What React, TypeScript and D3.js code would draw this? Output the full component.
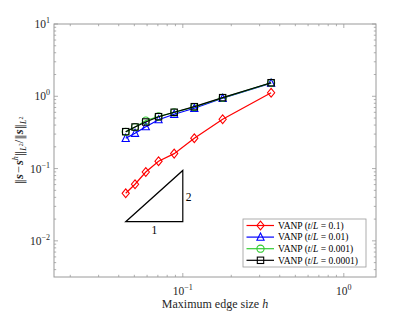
import * as d3 from 'd3';

// mesh sizes h (n = 1..8 refinements)
const meshH = [0.3536, 0.1768, 0.1179, 0.0884, 0.0707, 0.0589, 0.0505, 0.0442];

const errT01 = [1.12, 0.481, 0.263, 0.161, 0.1265, 0.0897, 0.0607, 0.0455];
const errT001 = [1.52, 0.938, 0.682, 0.564, 0.474, 0.38, 0.308, 0.262];
const errT0001 = [1.53, 0.95, 0.71, 0.6, 0.525, 0.46, 0.375, 0.322];
const errT00001 = [1.54, 0.957, 0.718, 0.601, 0.522, 0.441, 0.376, 0.324];

const seriesLabels = ['0.1', '0.01', '0.001', '0.0001'];
const seriesColors = ['#ff0000', '#0000ff', '#33cc33', '#000000'];
const seriesMarkers = ['diamond', 'triangle', 'circle', 'square'];

const xTickExps = [-1, 0];
const yTickExps = [1, 0, -1, -2];

// slope triangle (h from 0.0442 to 0.1, rate 2)
const triH = [0.0442, 0.1];
const triBase = 0.0184;

const W = 415;
const H = 312;
const left = 54, right = 376, top = 24, bottom = 277;
const font = '"Liberation Serif", "DejaVu Serif", serif';
const barFont = '"DejaVu Serif", serif';
const axisCol = '#9a9a9a';
const textCol = '#262626';

function Marker({ kind, x, y, color }: { kind: string; x: number; y: number; color: string }) {
  const s = 3.6;
  if (kind === 'diamond')
    return <path d={`M${x},${y - s - 0.8}L${x + s},${y}L${x},${y + s + 0.8}L${x - s},${y}Z`} fill="none" stroke={color} strokeWidth={1.1} />;
  if (kind === 'triangle')
    return <path d={`M${x},${y - s - 0.5}L${x + s},${y + s - 0.5}L${x - s},${y + s - 0.5}Z`} fill="none" stroke={color} strokeWidth={1.1} />;
  if (kind === 'circle')
    return <circle cx={x} cy={y} r={s} fill="none" stroke={color} strokeWidth={1.1} />;
  return <rect x={x - s + 0.4} y={y - s + 0.4} width={2 * s - 0.8} height={2 * s - 0.8} fill="none" stroke={color} strokeWidth={1.1} />;
}

export default function App() {
  const x = d3.scaleLog().domain([10 ** -1.8, 10 ** 0.2]).range([left, right]);
  const y = d3.scaleLog().domain([10 ** -2.5, 10 ** 1]).range([bottom, top]);

  const allSeries = [errT01, errT001, errT0001, errT00001];
  const line = d3
    .line<[number, number]>()
    .x((d) => x(d[0]))
    .y((d) => y(d[1]));

  // minor + major ticks
  const xTicks: { v: number; major: boolean }[] = [];
  for (let e = -2; e <= 0; e++) {
    for (let m = 1; m <= 9; m++) {
      const v = m * 10 ** e;
      if (v >= x.domain()[0] && v <= x.domain()[1]) xTicks.push({ v, major: m === 1 });
    }
  }
  const yTicks: { v: number; major: boolean }[] = [];
  for (let e = -3; e <= 1; e++) {
    for (let m = 1; m <= 9; m++) {
      const v = m * 10 ** e;
      if (v >= y.domain()[0] * 0.999 && v <= y.domain()[1] * 1.001) yTicks.push({ v, major: m === 1 });
    }
  }

  const tri = [
    [x(triH[0]), y(triBase)],
    [x(triH[1]), y(triBase)],
    [x(triH[1]), y(triBase * (triH[1] / triH[0]) ** 2)],
  ];

  const legX = 243, legY = 219, legW = 123, legH = 48;
  const bs = { fontWeight: 'bold' as const, fontStyle: 'italic' as const };

  return (
    <svg width={W} height={H} style={{ position: 'absolute', left: 0, top: 0, background: '#fff' }} fontFamily={font}>
      {/* axes box */}
      <rect x={left} y={top} width={right - left} height={bottom - top} fill="none" stroke={axisCol} strokeWidth={1} />
      {xTicks.map((t, i) => {
        const px = x(t.v);
        const len = t.major ? 4 : 2.2;
        return (
          <g key={'xt' + i} stroke={axisCol} strokeWidth={0.8}>
            <line x1={px} x2={px} y1={bottom} y2={bottom - len} />
            <line x1={px} x2={px} y1={top} y2={top + len} />
          </g>
        );
      })}
      {yTicks.map((t, i) => {
        const py = y(t.v);
        const len = t.major ? 4 : 2.2;
        return (
          <g key={'yt' + i} stroke={axisCol} strokeWidth={0.8}>
            <line x1={left} x2={left + len} y1={py} y2={py} />
            <line x1={right} x2={right - len} y1={py} y2={py} />
          </g>
        );
      })}
      {xTickExps.map((e) => (
        <text key={'xl' + e} x={x(10 ** e)} y={bottom + 18} textAnchor="middle" fontSize={11.5} fill={textCol}>
          10<tspan dy={-5} fontSize={8}>{e < 0 ? '\u2212' + Math.abs(e) : e}</tspan>
        </text>
      ))}
      {yTickExps.map((e) => (
        <text key={'yl' + e} x={left - 4} y={y(10 ** e) + 4} textAnchor="end" fontSize={11.5} fill={textCol}>
          10<tspan dy={-5} fontSize={8}>{e < 0 ? '\u2212' + Math.abs(e) : e}</tspan>
        </text>
      ))}

      {/* axis labels */}
      <text x={(left + right) / 2} y={308} textAnchor="middle" fontSize={12} fill={textCol}>
        Maximum edge size <tspan fontStyle="italic">h</tspan>
      </text>
      <text transform={`translate(23,${(top + bottom) / 2}) rotate(-90)`} textAnchor="middle" fontSize={12.5} fill={textCol}>
        <tspan fontFamily={barFont} fontSize={11}>‖</tspan>
        <tspan {...bs}>s</tspan>
        <tspan dx={1}>−</tspan>
        <tspan dx={1} {...bs}>s</tspan>
        <tspan dy={-5} fontSize={8} fontStyle="italic">h</tspan>
        <tspan dy={5} fontFamily={barFont} fontSize={11}>‖</tspan>
        <tspan dy={3} fontSize={8} fontStyle="italic">L</tspan>
        <tspan dy={-3} fontSize={6}>2</tspan>
        <tspan dy={0}>/</tspan>
        <tspan fontFamily={barFont} fontSize={11}>‖</tspan>
        <tspan {...bs}>s</tspan>
        <tspan fontFamily={barFont} fontSize={11}>‖</tspan>
        <tspan dy={3} fontSize={8} fontStyle="italic">L</tspan>
        <tspan dy={-3} fontSize={6}>2</tspan>
      </text>

      {/* slope triangle */}
      <path d={`M${tri[0][0]},${tri[0][1]}L${tri[1][0]},${tri[1][1]}L${tri[2][0]},${tri[2][1]}Z`} fill="none" stroke="#000" strokeWidth={1.2} />
      <text x={(tri[0][0] + tri[1][0]) / 2} y={tri[0][1] + 12} textAnchor="middle" fontSize={11.5} fill="#000">1</text>
      <text x={tri[1][0] + 3} y={(tri[1][1] + tri[2][1]) / 2 + 5} fontSize={11.5} fill="#000">2</text>

      {/* series */}
      {allSeries.map((vals, si) => {
        const pts = meshH.map((h, i) => [h, vals[i]] as [number, number]);
        return (
          <g key={'s' + si}>
            <path d={line(pts) || ''} fill="none" stroke={seriesColors[si]} strokeWidth={1.2} />
            {pts.map((p, i) => (
              <Marker key={i} kind={seriesMarkers[si]} x={x(p[0])} y={y(p[1])} color={seriesColors[si]} />
            ))}
          </g>
        );
      })}

      {/* legend */}
      <rect x={legX} y={legY} width={legW} height={legH} fill="#fff" stroke={axisCol} strokeWidth={0.8} />
      {seriesLabels.map((lab, i) => {
        const ly = legY + 6.5 + i * 11.6;
        return (
          <g key={'lg' + i}>
            <line x1={legX + 3.5} x2={legX + 31} y1={ly} y2={ly} stroke={seriesColors[i]} strokeWidth={1.2} />
            <Marker kind={seriesMarkers[i]} x={legX + 17.5} y={ly} color={seriesColors[i]} />
            <text x={legX + 35} y={ly + 3.3} fontSize={9.5} fill="#000">
              VANP (<tspan fontStyle="italic">t</tspan>/<tspan fontStyle="italic">L</tspan> = {lab})
            </text>
          </g>
        );
      })}
    </svg>
  );
}
